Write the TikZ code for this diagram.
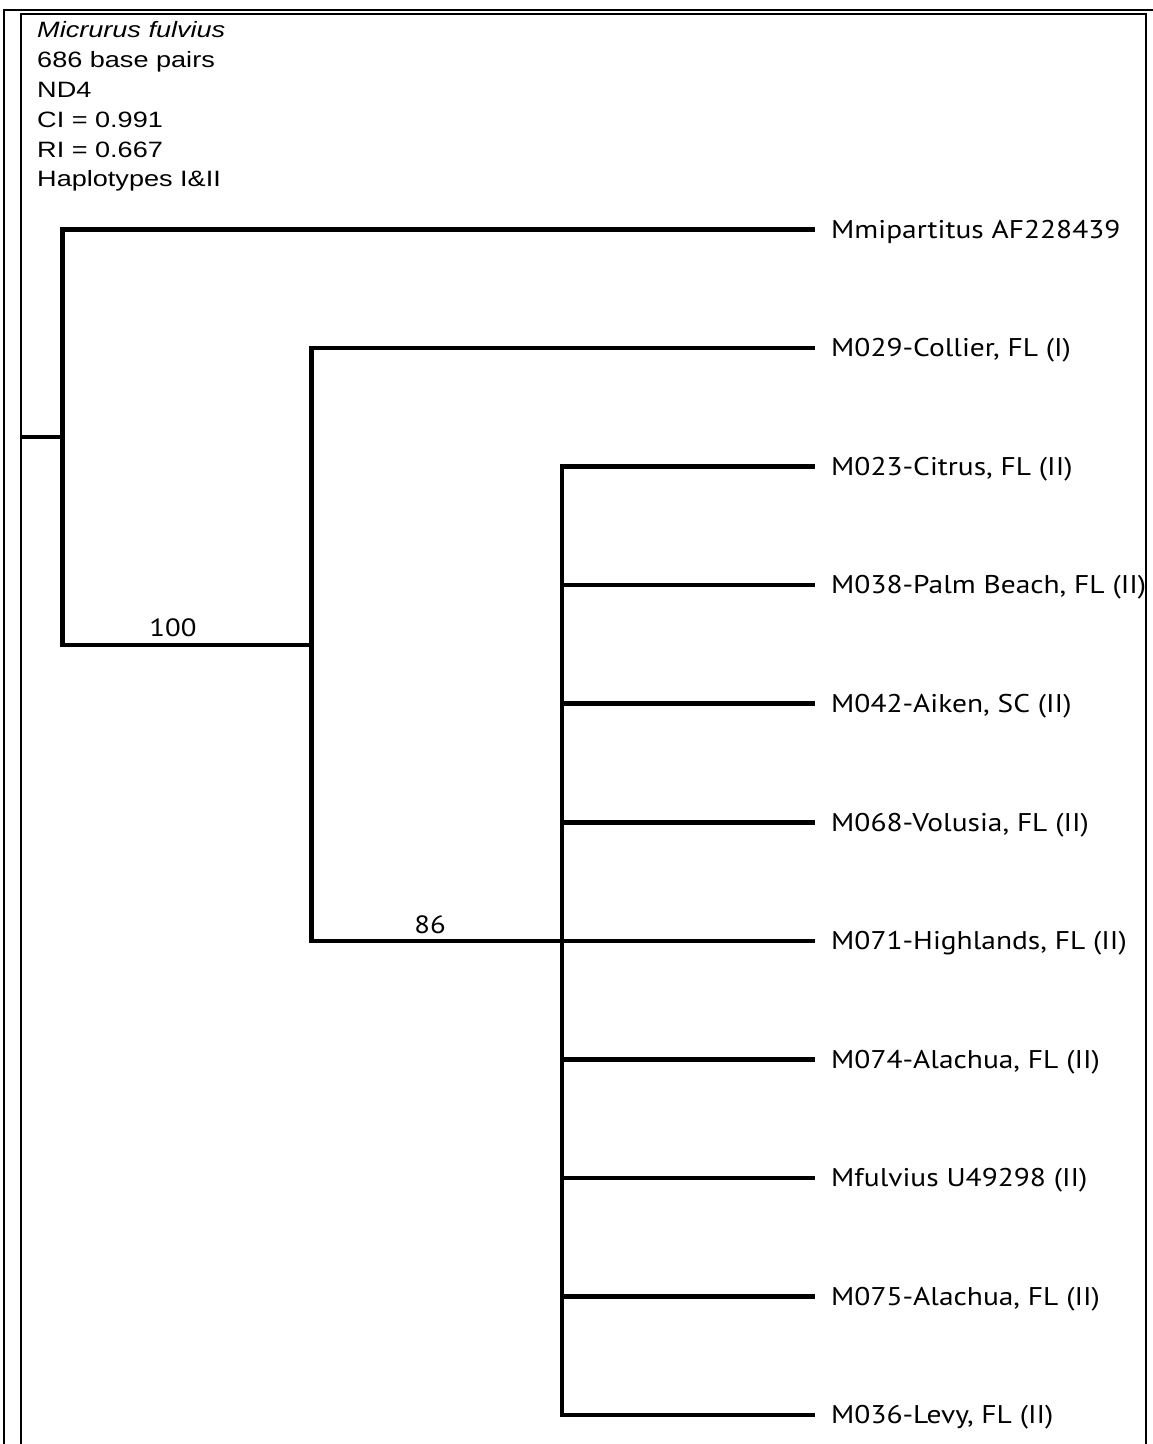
\documentclass[tikz,border=0pt]{standalone}
\usepackage{fontspec}
\newfontfamily\hdrfont[FakeStretch=1.22]{Liberation Sans}
\newfontfamily\lblfont[FakeStretch=1.15]{PT Sans}
\begin{document}
\begin{tikzpicture}[x=1pt,y=-1pt,
  frameline/.style={line width=2pt},
  branch/.style={line width=4.5pt},
  tiplabel/.style={anchor=base west, inner sep=0pt, font=\lblfont\fontsize{25.6}{25.6}\selectfont},
  hdr/.style={anchor=base west, inner sep=0pt, font=\hdrfont\fontsize{22.2}{22.2}\selectfont},
  support/.style={anchor=base, inner sep=0pt, font=\lblfont\fontsize{25}{25}\selectfont}]
\useasboundingbox (0,0) rectangle (1153,1444);
% frames
\draw[frameline] (4,1444) -- (4,9.5) -- (1153,9.5);
\draw[frameline] (20.5,1444) -- (20.5,14) -- (1146,14) -- (1146,1444);
% header
\node[hdr] (h1) at (37,37.8) {\itshape Micrurus fulvius};
\node[hdr] (h2) at (37,67.6) {686 base pairs};
\node[hdr] (h3) at (37,97.4) {ND4};
\node[hdr] (h4) at (37,127.2) {CI = 0.991};
\node[hdr] (h5) at (37,157) {RI = 0.667};
\node[hdr] (h6) at (37,186.8) {Haplotypes I\&II};
% internal nodes
\coordinate (stub) at (20.5,437);
\coordinate (root) at (62.5,437);
\coordinate (n100) at (311.5,645);
\coordinate (n86) at (562,941);
% tips
\foreach \i/\y in {0/229.5,1/348.05,2/466.6,3/585.15,4/703.7,5/822.25,6/940.8,7/1059.35,8/1177.9,9/1296.45,10/1415}{
  \coordinate (t\i) at (815,\y);
}
\draw[branch] (stub) -- (root);
\draw[branch] (root) |- (t0);
\draw[branch] (root) |- (n100);
\draw[branch] (n100) |- (t1);
\draw[branch] (n100) |- (n86);
\foreach \i in {2,...,10}{
  \draw[branch] (n86) |- (t\i);
}
% labels
\tikzset{lblpos/.style={xshift=16pt,yshift=-8.8pt}}
\node[tiplabel] (l0) at ([lblpos]t0) {Mmipartitus AF228439};
\node[tiplabel] (l1) at ([lblpos]t1) {M029-Collier, FL (I)};
\node[tiplabel] (l2) at ([lblpos]t2) {M023-Citrus, FL (II)};
\node[tiplabel] (l3) at ([lblpos]t3) {M038-Palm Beach, FL (II)};
\node[tiplabel] (l4) at ([lblpos]t4) {M042-Aiken, SC (II)};
\node[tiplabel] (l5) at ([lblpos]t5) {M068-Volusia, FL (II)};
\node[tiplabel] (l6) at ([lblpos]t6) {M071-Highlands, FL (II)};
\node[tiplabel] (l7) at ([lblpos]t7) {M074-Alachua, FL (II)};
\node[tiplabel] (l8) at ([lblpos]t8) {Mfulvius U49298 (II)};
\node[tiplabel] (l9) at ([lblpos]t9) {M075-Alachua, FL (II)};
\node[tiplabel] (l10) at ([lblpos]t10) {M036-Levy, FL (II)};
% support values
\node[support] (s100) at (173,636) {100};
\node[support] (s86) at (430,933) {86};
\end{tikzpicture}
\end{document}
